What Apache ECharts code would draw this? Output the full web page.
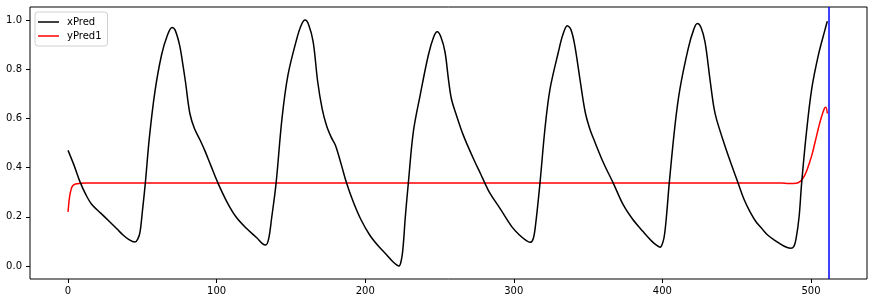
<!DOCTYPE html>
<html>
<head>
<meta charset="utf-8">
<script src="https://cdn.jsdelivr.net/npm/echarts@6/dist/echarts.min.js"></script>
<style>
html,body{margin:0;padding:0;background:#fff;}
#c{width:874px;height:303px;}
</style>
</head>
<body>
<div id="c"></div>
<script>
// x positions and values
const xPredX = [0,4,8,12,16,22,28,33,37,41,45,47,48.5,50,52,54.7,58.5,63,67,70,72,75,77,79,82,85,89,92,96,101,107,113,120,127,131,133,135,137,140,144,148,154,157,159.5,162,165,168,171,174,177,180,184,187.5,192,197,203,209,214.5,219,222.7,224.5,225.6,227,229,232.4,237,242.5,246,248.5,251,253.7,256,258,261,266,272.7,278,280.6,284,290.7,298.6,304,308,311,313,314.5,317.6,321,324.4,330,333,336,338.5,341,344.5,348,351,353.5,360,367,373.7,380,387,393,396,398.4,400.5,401.7,403,404.6,408.5,411.8,417.4,421,423.5,426,428.7,432,434.5,436.5,442,446,451,455,459,463,466.8,471,477,482,486.3,488.5,490,492,493.7,497,500.5,505,509.4,511];
const xPredY = [0.47,0.41,0.343,0.29,0.25,0.215,0.18,0.15,0.126,0.107,0.097,0.11,0.14,0.22,0.336,0.52,0.71,0.86,0.94,0.97,0.96,0.9,0.83,0.75,0.62,0.56,0.51,0.47,0.41,0.336,0.26,0.2,0.153,0.115,0.09,0.085,0.11,0.194,0.336,0.6,0.776,0.925,0.98,1.0,0.98,0.91,0.75,0.64,0.57,0.525,0.49,0.41,0.336,0.26,0.19,0.126,0.08,0.045,0.015,0.0,0.03,0.085,0.2,0.336,0.546,0.695,0.858,0.93,0.952,0.93,0.87,0.76,0.68,0.62,0.532,0.438,0.37,0.336,0.295,0.234,0.16,0.125,0.105,0.096,0.11,0.16,0.336,0.56,0.72,0.87,0.94,0.977,0.96,0.898,0.76,0.627,0.56,0.52,0.424,0.336,0.248,0.19,0.14,0.1,0.085,0.076,0.1,0.14,0.22,0.336,0.573,0.72,0.885,0.96,0.986,0.97,0.91,0.76,0.65,0.595,0.49,0.42,0.336,0.27,0.22,0.18,0.153,0.125,0.099,0.08,0.072,0.08,0.112,0.2,0.336,0.546,0.72,0.858,0.96,0.995];

const yPred1X = [0,1,2,3,5,8,12,100,200,300,400,480,485,490,493,495,497,499,501,503,505,507,509,510,511];
const yPred1Y = [0.22,0.28,0.31,0.325,0.333,0.336,0.337,0.337,0.337,0.337,0.337,0.337,0.335,0.336,0.345,0.36,0.385,0.42,0.46,0.51,0.56,0.605,0.64,0.645,0.62];

const vlineX = 512;
const xTicks = [0,100,200,300,400,500];
const yTicks = [0,0.2,0.4,0.6,0.8,1.0];
const xRange = [-25.6, 537.7];
const yRange = [-0.053, 1.053];

const zip = (a,b) => a.map((v,i)=>[v,b[i]]);

const chart = echarts.init(document.getElementById('c'), null, {renderer:'canvas'});
const font = 'DejaVu Sans';
chart.setOption({
  animation:false,
  backgroundColor:'#ffffff',
  grid:{left:30,right:7,top:7,bottom:24,show:true,borderColor:'#000',borderWidth:1,backgroundColor:'transparent'},
  legend:{
    orient:'vertical', left:35, top:12,
    padding:[4,6,4,3],
    itemGap:2, itemWidth:21, itemHeight:1.5,
    borderColor:'#d0d0d0', borderWidth:1, borderRadius:3,
    backgroundColor:'rgba(255,255,255,0.8)',
    textStyle:{fontFamily:font,fontSize:10,color:'#000',lineHeight:12,padding:[0,0,0,3]},
    data:[{name:'xPred',icon:'rect'},{name:'yPred1',icon:'rect'}]
  },
  xAxis:{
    type:'value', min:xRange[0], max:xRange[1],
    splitLine:{show:false},
    axisLine:{show:false,onZero:false},
    axisTick:{show:true,length:4,inside:false,lineStyle:{color:'#000'},customValues:xTicks},
    axisLabel:{fontFamily:font,fontSize:10,color:'#000',margin:7,customValues:xTicks,formatter:v=>String(Math.round(v))}
  },
  yAxis:{
    type:'value', min:yRange[0], max:yRange[1],
    splitLine:{show:false},
    axisLine:{show:false,onZero:false},
    axisTick:{show:true,length:4,lineStyle:{color:'#000'},customValues:yTicks},
    axisLabel:{fontFamily:font,fontSize:10,color:'#000',margin:8,customValues:yTicks,formatter:v=>v.toFixed(1)}
  },
  series:[
    {name:'xPred',type:'line',data:zip(xPredX,xPredY),showSymbol:false,smooth:0.35,
     lineStyle:{color:'#000',width:1.5},itemStyle:{color:'#000'},z:3,
     markLine:{silent:true,symbol:['none','none'],label:{show:false},
       lineStyle:{color:'#0000ff',width:1.5,type:'solid'},data:[{xAxis:vlineX}]}},
    {name:'yPred1',type:'line',data:zip(yPred1X,yPred1Y),showSymbol:false,smooth:0.35,
     lineStyle:{color:'#ff0000',width:1.5},itemStyle:{color:'#ff0000'},z:2}
  ]
});
</script>
</body>
</html>
